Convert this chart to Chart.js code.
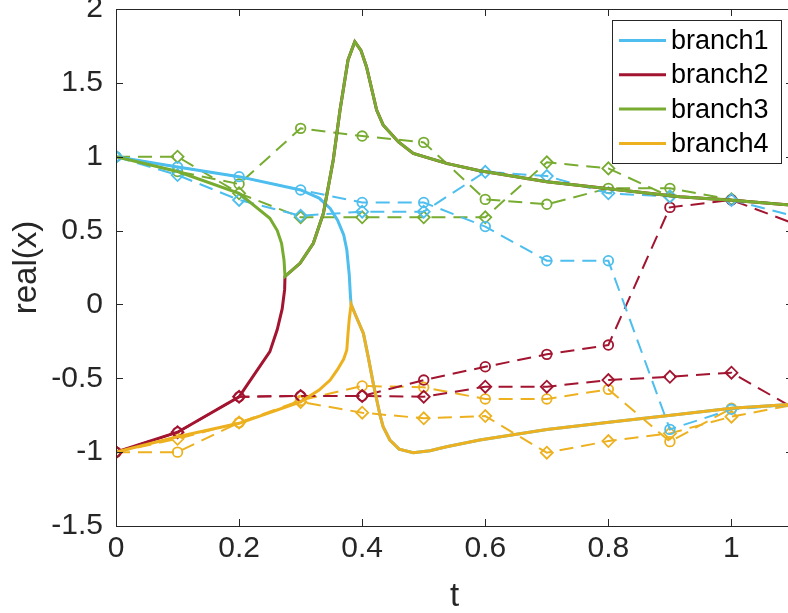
<!DOCTYPE html>
<html>
<head>
<meta charset="utf-8">
<script src="https://cdn.jsdelivr.net/npm/chart.js@4.4.0/dist/chart.umd.min.js"></script>
<style>
  html, body { margin: 0; padding: 0; background: #fff; overflow: hidden; }
  #c { display: block; }
</style>
</head>
<body>
<canvas id="c" width="800" height="613"></canvas>
<script>
// --- data ---
const xTicks = [0, 0.2, 0.4, 0.6, 0.8, 1];
const yTicks = [-1.5, -1, -0.5, 0, 0.5, 1, 1.5, 2];

// sampled points (dashed, with markers)
const tGrid = [0, 0.1, 0.2, 0.3, 0.4, 0.5, 0.6, 0.7, 0.8, 0.9, 1.0, 1.1];
const b1Circ = [1.0, 0.93, 0.865, 0.775, 0.69, 0.69, 0.527, 0.296, 0.296, -0.846, -0.71, -0.68];
const b1Diam = [1.0, 0.876, 0.707, 0.60, 0.628, 0.628, 0.898, 0.869, 0.752, 0.73, 0.707, 0.60];
const b2Circ = [-1.0, -0.865, -0.625, -0.62, -0.62, -0.512, -0.422, -0.338, -0.275, 0.657, 0.707, 0.55];
const b2Diam = [-1.0, -0.865, -0.625, -0.62, -0.62, -0.625, -0.557, -0.557, -0.512, -0.49, -0.462, -0.70];
const b3Circ = [1.0, 0.90, 0.815, 1.192, 1.14, 1.097, 0.711, 0.678, 0.786, 0.786, 0.71, 0.67];
const b3Diam = [1.0, 1.0, 0.752, 0.59, 0.59, 0.59, 0.59, 0.962, 0.921, 0.73, 0.712, 0.67];
const b4Circ = [-1.0, -1.0, -0.80, -0.65, -0.552, -0.561, -0.64, -0.64, -0.575, -0.929, -0.703, -0.68];
const b4Diam = [-1.0, -0.91, -0.80, -0.66, -0.733, -0.771, -0.756, -1.004, -0.925, -0.873, -0.76, -0.68];

// continuation curves (solid)
const upperT = [0.2746, 0.299, 0.3206, 0.337, 0.353, 0.364, 0.377, 0.388, 0.398, 0.407, 0.4235, 0.434, 0.459, 0.483, 0.537, 0.591, 0.70, 0.808, 0.916, 1.0, 1.1];
const upperX = [0.19, 0.278, 0.414, 0.617, 0.978, 1.316, 1.655, 1.779, 1.72, 1.609, 1.316, 1.215, 1.10, 1.023, 0.955, 0.905, 0.831, 0.779, 0.729, 0.706, 0.672];
const lowerT = [0.382, 0.39, 0.402, 0.41, 0.418, 0.429, 0.434, 0.445, 0.46, 0.483, 0.51, 0.537, 0.591, 0.70, 0.808, 0.916, 1.0, 1.1];
const lowerX = [0.0, -0.08, -0.196, -0.36, -0.535, -0.75, -0.828, -0.918, -0.98, -1.004, -0.99, -0.963, -0.918, -0.846, -0.794, -0.744, -0.703, -0.675];

const b1T = [0, 0.1, 0.2, 0.3, 0.33, 0.348, 0.36, 0.37, 0.375, 0.379, 0.381];
const b1X = [1, 0.93, 0.865, 0.775, 0.72, 0.65, 0.57, 0.47, 0.37, 0.2, 0.05];
const b2T = [0, 0.1, 0.2, 0.25, 0.262, 0.27, 0.274];
const b2X = [-1, -0.865, -0.625, -0.32, -0.17, -0.03, 0.1];
const b3T = [0, 0.1, 0.2, 0.25, 0.262, 0.269, 0.273];
const b3X = [1, 0.9, 0.752, 0.583, 0.50, 0.414, 0.3];
const b4T = [0, 0.1, 0.2, 0.3, 0.33, 0.348, 0.36, 0.37, 0.375, 0.377, 0.379];
const b4X = [-1, -0.896, -0.805, -0.659, -0.58, -0.512, -0.44, -0.37, -0.309, -0.196, -0.1];

const names = ['branch1', 'branch2', 'branch3', 'branch4'];
const colors = ['#4DBEEE', '#A2142F', '#77AC30', '#EDB120'];

const FONT = '"Liberation Sans", Arial, Helvetica, sans-serif';
const AX = '#262626';
const TICK = 7;

const pts = (ts, xs) => ts.map((t, i) => ({ x: t, y: xs[i] }));

function solid(i, data, order) {
  return {
    label: names[i], data, borderColor: colors[i], borderWidth: 3,
    pointRadius: 0, showLine: true, tension: 0, order
  };
}

function dashed(i, vals, style) {
  return {
    label: names[i] + '-' + style, data: pts(tGrid, vals),
    borderColor: colors[i], borderWidth: 2, borderDash: [14, 8],
    showLine: true, tension: 0, order: 10 + i,
    pointStyle: style, pointRadius: tGrid.map(t => t > 1.05 ? 0 : (style === 'rectRot' ? 6 : 4.8)),
    pointBorderWidth: 1.8, pointBorderColor: colors[i], pointBackgroundColor: 'rgba(0,0,0,0)'
  };
}

const datasets = [
  dashed(0, b1Circ, 'circle'), dashed(0, b1Diam, 'rectRot'),
  dashed(1, b2Circ, 'circle'), dashed(1, b2Diam, 'rectRot'),
  dashed(2, b3Circ, 'circle'), dashed(2, b3Diam, 'rectRot'),
  dashed(3, b4Circ, 'circle'), dashed(3, b4Diam, 'rectRot'),
  // blue runs under orange after the cusp, red under green after the fold
  solid(0, pts(b1T.concat(lowerT), b1X.concat(lowerX)), 4),
  solid(1, pts(b2T.concat(upperT), b2X.concat(upperX)), 3),
  solid(2, pts(b3T.concat(upperT), b3X.concat(upperX)), 2),
  solid(3, pts(b4T.concat(lowerT), b4X.concat(lowerX)), 1)
];

// box, inward ticks and the legend
const frame = {
  id: 'frame',
  afterDatasetsDraw(chart) {
    const { ctx, chartArea: a, scales: { x, y } } = chart;
    ctx.save();
    ctx.strokeStyle = AX;
    ctx.lineWidth = 1;
    ctx.strokeRect(Math.round(a.left) + 0.5, Math.round(a.top) + 0.5,
      Math.round(a.right - a.left), Math.round(a.bottom - a.top));
    ctx.beginPath();
    xTicks.forEach(v => {
      const p = Math.round(x.getPixelForValue(v)) + 0.5;
      ctx.moveTo(p, a.bottom); ctx.lineTo(p, a.bottom - TICK);
      ctx.moveTo(p, a.top); ctx.lineTo(p, a.top + TICK);
    });
    yTicks.forEach(v => {
      const p = Math.round(y.getPixelForValue(v)) + 0.5;
      ctx.moveTo(a.left, p); ctx.lineTo(a.left + TICK, p);
      ctx.moveTo(a.right, p); ctx.lineTo(a.right - TICK, p);
    });
    ctx.stroke();

    // legend
    const L = { x: 612, y: 20, w: 169, h: 143 };
    ctx.fillStyle = '#fff';
    ctx.fillRect(L.x, L.y, L.w, L.h);
    ctx.strokeRect(L.x + 0.5, L.y + 0.5, L.w, L.h);
    ctx.font = '27px ' + FONT;
    ctx.textBaseline = 'middle';
    ctx.textAlign = 'left';
    names.forEach((n, i) => {
      const ry = L.y + 20.5 + i * 34.3;
      ctx.strokeStyle = colors[i];
      ctx.lineWidth = 3;
      ctx.beginPath();
      ctx.moveTo(L.x + 7, ry); ctx.lineTo(L.x + 54, ry);
      ctx.stroke();
      ctx.fillStyle = '#000';
      ctx.fillText(n, L.x + 59, ry + 1);
    });
    ctx.restore();
  }
};

new Chart(document.getElementById('c'), {
  type: 'scatter',
  data: { datasets },
  options: {
    responsive: false,
    animation: false,
    events: [],
    layout: { padding: { top: 9, right: 7, left: 0, bottom: 0 }, autoPadding: false },
    plugins: { legend: { display: false }, tooltip: { enabled: false } },
    scales: {
      x: {
        type: 'linear', min: 0, max: 1.1,
        afterBuildTicks: s => { s.ticks = xTicks.map(v => ({ value: v })); },
        afterFit: s => { s.height = 87; s.paddingLeft = 0; s.paddingRight = 0; },
        grid: { display: false, drawTicks: false },
        border: { display: false },
        ticks: { font: { family: FONT, size: 30 }, color: AX, padding: 5, maxRotation: 0, autoSkip: false, callback: v => String(v) },
        title: { display: true, text: 't', color: AX, padding: 0, font: { family: FONT, size: 33, lineHeight: 1 } }
      },
      y: {
        type: 'linear', min: -1.5, max: 2,
        afterBuildTicks: s => { s.ticks = yTicks.map(v => ({ value: v })); },
        afterFit: s => { s.width = 116; s.paddingTop = 0; s.paddingBottom = 0; },
        grid: { display: false, drawTicks: false },
        border: { display: false },
        ticks: { font: { family: FONT, size: 30 }, color: AX, padding: 13, autoSkip: false, callback: v => String(v) },
        title: { display: true, text: 'real(x)', color: AX, padding: 10, font: { family: FONT, size: 33, lineHeight: 1 } }
      }
    }
  },
  plugins: [frame]
});
</script>
</body>
</html>
